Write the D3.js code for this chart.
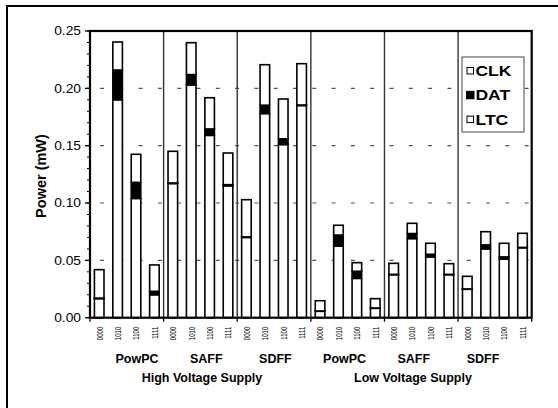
<!DOCTYPE html>
<html>
<head>
<meta charset="utf-8">
<script src="https://cdn.jsdelivr.net/npm/d3@7"></script>
<style>
  body { margin: 0; background: #fff; }
  text { font-family: Arial, "Liberation Sans", sans-serif; }
</style>
</head>
<body>
<script>
// chart data
const supplies = ["High Voltage Supply", "Low Voltage Supply"];
const circuits = ["PowPC", "SAFF", "SDFF"];
const patterns = ["0000", "1010", "1100", "1111"];
const yTicks = [0, 0.05, 0.10, 0.15, 0.20, 0.25];

// 24 bars: supply -> circuit -> pattern
const ltcPower = [
  0.0166, 0.190, 0.104, 0.020,
  0.117, 0.203, 0.159, 0.115,
  0.070, 0.178, 0.151, 0.185,
  0.0056, 0.0625, 0.0343, 0.0082,
  0.0375, 0.069, 0.053, 0.0375,
  0.0248, 0.060, 0.051, 0.061];
const datPower = [
  0.0005, 0.026, 0.014, 0.003,
  0.0005, 0.009, 0.0056, 0.001,
  0.0005, 0.0073, 0.005, 0.0005,
  0.0003, 0.0096, 0.0062, 0.0003,
  0.0003, 0.0044, 0.0023, 0.0003,
  0.0003, 0.0035, 0.002, 0.0003];
const clkPower = [
  0.0248, 0.0244, 0.0245, 0.023,
  0.0276, 0.0278, 0.0272, 0.0276,
  0.0324, 0.0353, 0.0347, 0.036,
  0.0089, 0.0085, 0.0075, 0.0081,
  0.0096, 0.0089, 0.0096, 0.0093,
  0.011, 0.0115, 0.0119, 0.0123];

const width = 558;
const height = 408;
const svg = d3.select("body").append("svg")
  .attr("width", width).attr("height", height);

// outer frame (runs off the right and bottom edge)
svg.append("rect")
  .attr("x", 7).attr("y", 6).attr("width", 570).attr("height", 420)
  .attr("fill", "none").attr("stroke", "#000").attr("stroke-width", 2);

const margin = {top: 31, left: 90, right: 26.3, bottom: 90.3};
const innerW = width - margin.left - margin.right;
const innerH = height - margin.top - margin.bottom;

const groups = [];
supplies.forEach((s, i) => circuits.forEach(c => groups.push(i + "|" + c)));

const rows = [];
groups.forEach((g, gi) => patterns.forEach((p, pi) => {
  const k = gi * patterns.length + pi;
  rows.push({group: g, pattern: p, LTC: ltcPower[k], DAT: datPower[k], CLK: clkPower[k]});
}));

const x0 = d3.scaleBand().domain(groups).range([0, innerW]);
const x1 = d3.scaleBand().domain(patterns).range([0, x0.bandwidth()])
  .paddingInner(0.48).paddingOuter(0.24);
const y = d3.scaleLinear().domain([0, 0.25]).range([innerH, 0]);

const g = svg.append("g").attr("transform", `translate(${margin.left},${margin.top})`);

// dashed grid
g.selectAll(".grid").data(yTicks.filter(t => t > 0 && t < 0.25)).enter()
  .append("line")
  .attr("x1", 0).attr("x2", innerW)
  .attr("y1", d => y(d)).attr("y2", d => y(d))
  .attr("stroke", "#555").attr("stroke-width", 1.2)
  .attr("stroke-dasharray", "4,15.3").attr("stroke-dashoffset", -10);

// group separators
g.selectAll(".sep").data(groups.slice(1)).enter()
  .append("line")
  .attr("x1", d => x0(d)).attr("x2", d => x0(d))
  .attr("y1", 0).attr("y2", innerH)
  .attr("stroke", "#333").attr("stroke-width", 1.4);

// stacked bars
const stack = d3.stack().keys(["LTC", "DAT", "CLK"]);
const fills = {LTC: "#fff", DAT: "#000", CLK: "#fff"};
g.selectAll(".series").data(stack(rows)).enter()
  .append("g")
  .attr("fill", d => fills[d.key])
  .selectAll("rect").data(d => d).enter()
  .append("rect")
  .attr("x", d => x0(d.data.group) + x1(d.data.pattern))
  .attr("width", x1.bandwidth())
  .attr("y", d => y(d[1]))
  .attr("height", d => y(d[0]) - y(d[1]))
  .attr("stroke", "#000").attr("stroke-width", 1.6);

// plot frame
g.append("rect")
  .attr("width", innerW).attr("height", innerH)
  .attr("fill", "none").attr("stroke", "#000").attr("stroke-width", 2.2);

// y axis ticks
const yMinor = d3.range(0, 0.2501, 0.01);
g.selectAll(".minor").data(yMinor).enter().append("line")
  .attr("x1", -3).attr("x2", 0)
  .attr("y1", d => y(d)).attr("y2", d => y(d))
  .attr("stroke", "#000").attr("stroke-width", 1);
g.selectAll(".major").data(yTicks).enter().append("line")
  .attr("x1", -5).attr("x2", 0)
  .attr("y1", d => y(d)).attr("y2", d => y(d))
  .attr("stroke", "#000").attr("stroke-width", 1.3);
g.selectAll(".ylab").data(yTicks).enter().append("text")
  .attr("transform", d => `translate(-9,${y(d)}) scale(1.15,1)`)
  .attr("dy", "0.36em")
  .attr("text-anchor", "end")
  .attr("font-size", 12)
  .text(d => d3.format(".2f")(d));

// x ticks at group edges
g.selectAll(".xtick").data(groups.map(d => x0(d)).concat([innerW])).enter()
  .append("line")
  .attr("x1", d => d).attr("x2", d => d)
  .attr("y1", innerH).attr("y2", innerH + 4)
  .attr("stroke", "#000").attr("stroke-width", 1.3);

// pattern labels
g.selectAll(".plab").data(rows).enter().append("text")
  .attr("transform", d => `translate(${x0(d.group) + x1(d.pattern) + x1.bandwidth() / 2},${innerH + 9}) rotate(-90) scale(0.64,1)`)
  .attr("dy", "0.35em")
  .attr("text-anchor", "end")
  .attr("font-size", 9.5)
  .text(d => d.pattern);

// circuit labels (placed a bit off the group centres, as in the original)
const labelX = d3.scalePoint().domain(groups).range([137 - margin.left, 483 - margin.left]);
g.selectAll(".clab").data(groups).enter().append("text")
  .attr("x", d => labelX(d))
  .attr("y", innerH + 45.5)
  .attr("text-anchor", "middle")
  .attr("font-size", 12.5).attr("font-weight", "bold")
  .text(d => d.split("|")[1]);

// supply labels
const supplyX = d3.scalePoint().domain(supplies).range([202 - margin.left, 413 - margin.left]);
g.selectAll(".slab").data(supplies).enter().append("text")
  .attr("x", d => supplyX(d))
  .attr("y", innerH + 64)
  .attr("text-anchor", "middle")
  .attr("font-size", 12.5).attr("font-weight", "bold")
  .text(d => d);

// y title
svg.append("text")
  .attr("transform", `translate(45.5,176) rotate(-90)`)
  .attr("text-anchor", "middle")
  .attr("font-size", 14.5).attr("font-weight", "bold")
  .text("Power (mW)");

// legend
const legendKeys = ["CLK", "DAT", "LTC"];
const legend = svg.append("g").attr("transform", "translate(462,57)");
legend.append("rect")
  .attr("width", 62).attr("height", 75)
  .attr("fill", "#fff").attr("stroke", "#444").attr("stroke-width", 1);
const li = legend.selectAll(".li").data(legendKeys).enter().append("g")
  .attr("transform", (d, i) => `translate(0,${19 + i * 24.3})`);
li.append("rect")
  .attr("x", d => d === "DAT" ? 4.5 : 5)
  .attr("y", d => d === "DAT" ? -9 : -8.5)
  .attr("width", d => d === "DAT" ? 7.5 : 6.5)
  .attr("height", d => d === "DAT" ? 7.5 : 6.5)
  .attr("fill", d => fills[d]).attr("stroke", "#000").attr("stroke-width", 1);
li.append("text")
  .attr("transform", "translate(13.5,0) scale(1.25,1)")
  .attr("font-size", 14).attr("font-weight", "bold")
  .text(d => d);
</script>
</body>
</html>
